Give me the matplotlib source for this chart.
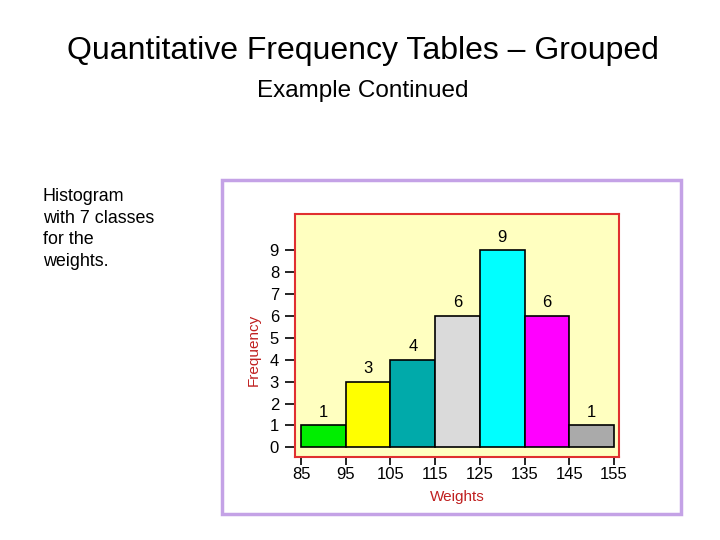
import matplotlib
matplotlib.use("Agg")
import matplotlib.pyplot as plt
from matplotlib.patches import Rectangle

plt.rcParams['font.family'] = ['Liberation Sans', 'DejaVu Sans']

bin_edges = [85, 95, 105, 115, 125, 135, 145, 155]
frequencies = [1, 3, 4, 6, 9, 6, 1]
bar_colors = ['#00ee00', '#ffff00', '#00aaaa', '#dadada', '#00ffff', '#ff00ff', '#aaaaaa']
y_ticks = list(range(0, 10))

title = "Quantitative Frequency Tables \u2013 Grouped"
subtitle = "Example Continued"
side_note = "Histogram\nwith 7 classes\nfor the\nweights."

W, H = 720, 540
fig = plt.figure(figsize=(7.2, 5.4), dpi=100)
fig.patch.set_facecolor('white')

# purple frame
fig.patches.append(Rectangle((221.5 / W, 1 - 513.5 / H), 459 / W, 334 / H,
                             transform=fig.transFigure, fill=False,
                             edgecolor='#c4a2e6', linewidth=2.5))

fig.text(363 / W, 1 - 59 / H, title, ha='center', va='baseline', fontsize=23)
fig.text(363 / W, 1 - 96.5 / H, subtitle, ha='center', va='baseline', fontsize=17.5)
for i, line in enumerate(side_note.split('\n')):
    fig.text(43 / W, 1 - (201 + 21.7 * i) / H, line, ha='left', va='baseline', fontsize=12.9)

ax = fig.add_axes([295 / W, 1 - 457 / H, 324 / W, 243 / H])
ax.set_facecolor('#ffffc0')
lefts = bin_edges[:-1]
widths = [b - a for a, b in zip(bin_edges[:-1], bin_edges[1:])]
bars = ax.bar(lefts, frequencies, width=widths, align='edge',
              color=bar_colors, edgecolor='black', linewidth=1.2, zorder=3)
for x, w, f in zip(lefts, widths, frequencies):
    ax.text(x + w / 2, f + 0.25, str(f), ha='center', va='bottom', fontsize=12)

ax.set_xlim(83.65, 156.1)
ax.set_ylim(-0.44, 10.65)
ax.set_xticks(bin_edges)
ax.set_yticks(y_ticks)
ax.tick_params(axis='y', direction='out', length=7.5, width=1.2, labelsize=12, pad=4)
ax.tick_params(axis='x', direction='out', length=5.5, width=1.2, labelsize=12, pad=1.5)
for s in ax.spines.values():
    s.set_edgecolor('#e03030')
    s.set_linewidth(1.5)
ax.set_xlabel('Weights', color='#c02020', fontsize=11, labelpad=6)
ax.set_ylabel('Frequency', color='#c02020', fontsize=11)
ax.yaxis.set_label_coords(-0.106, 0.44)

fig.savefig('out.png', dpi=100)
